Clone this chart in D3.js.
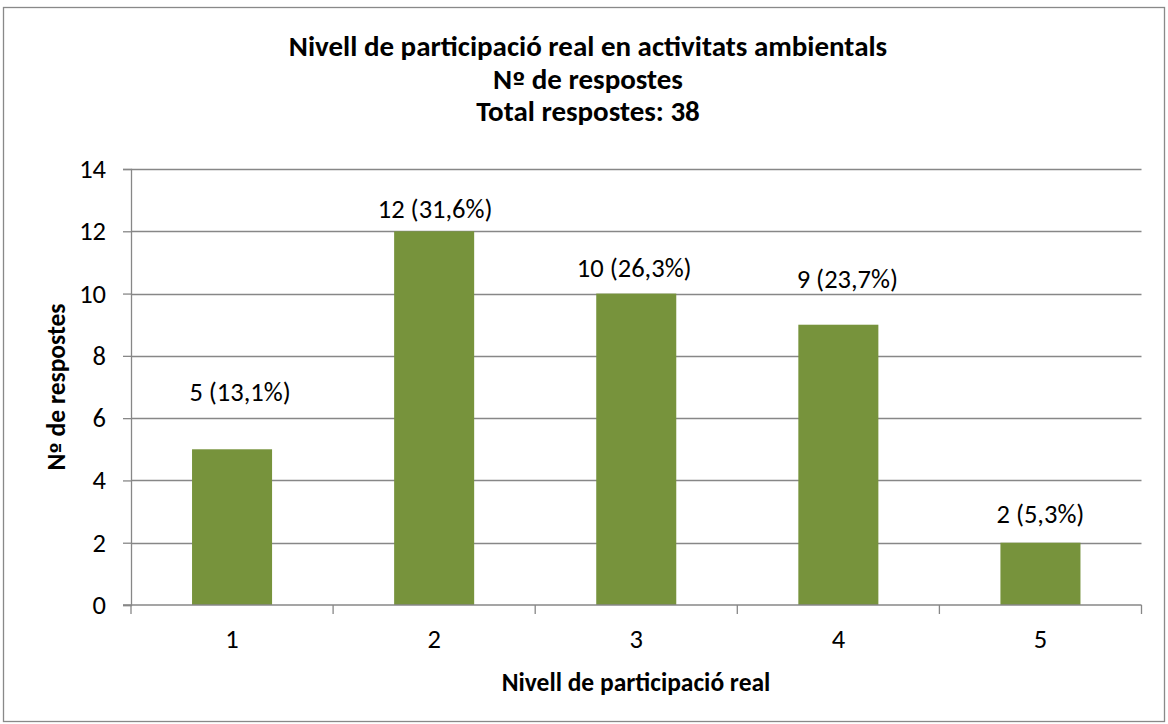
<!DOCTYPE html>
<html><head><meta charset="utf-8">
<script src="https://cdn.jsdelivr.net/npm/d3@7"></script>
<style>
html,body{margin:0;padding:0;background:#fff;}
svg text{font-family:Carlito, Lato, "Open Sans", sans-serif;fill:#000;}
</style></head>
<body>
<svg id="c" width="1168" height="724"></svg>
<script>
const categories = ["1","2","3","4","5"];
const values = [5, 12, 10, 9, 2];
const labels = ["5 (13,1%)","12 (31,6%)","10 (26,3%)","9 (23,7%)","2 (5,3%)"];
const yTicks = [0,2,4,6,8,10,12,14];
const titleLines = ["Nivell de participació real en activitats ambientals","Nº de respostes","Total respostes: 38"];
const xTitle = "Nivell de participació real";
const yTitle = "Nº de respostes";

// label placement (layout only): pixel lift above bar top and horizontal nudge
const labelLift = [48, 13, 17, 37, 20];
const labelNudge = [8, 1, -2, 9, 0];

const svg = d3.select("#c");
const m = {left:131, right:1141.5, top:169, bottom:605};

svg.append("rect").attr("x",3.5).attr("y",7.5).attr("width",1161).attr("height",714)
  .attr("fill","#fff").attr("stroke","#898989").attr("stroke-width",1.3);

const x = d3.scaleBand().domain(categories).range([m.left, m.right]).paddingInner(0.604).paddingOuter(0.302);
const xb = d3.scaleBand().domain(categories).range([m.left, m.right]).padding(0);
const y = d3.scaleLinear().domain([0,14]).range([m.bottom, m.top]);

// helper: write text, rendering "º" with a font that draws the underlined ordinal
function ordText(sel, s){
  const parts = s.split("º");
  parts.forEach((p,i)=>{
    if(i>0) sel.append("tspan").attr("font-family","'DejaVu Sans', sans-serif").attr("font-size","0.8em").text("º");
    if(p) sel.append("tspan").text(p);
  });
}

// gridlines
svg.append("g").selectAll("line").data(yTicks.filter(d=>d>0)).join("line")
  .attr("x1", m.left).attr("x2", m.right)
  .attr("y1", d=>Math.round(y(d))+0.5).attr("y2", d=>Math.round(y(d))+0.5)
  .attr("stroke","#878787").attr("stroke-width",1.3);

// bars
svg.append("g").selectAll("rect").data(values).join("rect")
  .attr("x",(d,i)=>x(categories[i])).attr("width",x.bandwidth())
  .attr("y",d=>y(d)).attr("height",d=>y(0)-y(d))
  .attr("fill","#77933C");

// y axis
const yAxis = d3.axisLeft(y).tickValues(yTicks).tickSize(8).tickPadding(17).tickFormat(d3.format("d"));
const gy = svg.append("g").attr("transform",`translate(${m.left},0)`).call(yAxis)
  .attr("font-size",null).attr("font-family",null);
gy.select(".domain").attr("stroke","#878787").attr("stroke-width",1.3);
gy.selectAll(".tick line").attr("stroke","#878787").attr("stroke-width",1.3);
gy.selectAll(".tick text").style("font-size","26.5px").attr("fill","#000");

// x axis
const gx = svg.append("g").attr("transform",`translate(0,${m.bottom})`);
gx.append("line").attr("x1",m.left-8).attr("x2",m.right).attr("y1",0).attr("y2",0)
  .attr("stroke","#878787").attr("stroke-width",1.3);
const bounds = categories.map(c=>xb(c)).concat([xb(categories[categories.length-1])+xb.bandwidth()]);
gx.selectAll("line.t").data(bounds).join("line").attr("class","t")
  .attr("x1",d=>d).attr("x2",d=>d).attr("y1",0).attr("y2",9)
  .attr("stroke","#878787").attr("stroke-width",1.3);
gx.selectAll("text").data(categories).join("text")
  .attr("x",d=>xb(d)+xb.bandwidth()/2).attr("y",43)
  .attr("text-anchor","middle").style("font-size","26.5px").text(d=>d);

// data labels
svg.append("g").selectAll("text").data(values).join("text")
  .attr("x",(d,i)=>x(categories[i])+x.bandwidth()/2+labelNudge[i])
  .attr("y",(d,i)=>y(d)-labelLift[i])
  .attr("text-anchor","middle").style("font-size","26.5px").text((d,i)=>labels[i]);

// title
svg.append("g").selectAll("text").data(titleLines).join("text")
  .attr("x",588).attr("y",(d,i)=>56+i*32.5)
  .attr("text-anchor","middle").style("font-size","29px").attr("font-weight","bold")
  .each(function(d){ ordText(d3.select(this), d); });

// axis titles
svg.append("text").attr("x",636).attr("y",691).attr("text-anchor","middle")
  .style("font-size","25.5px").attr("font-weight","bold").text(xTitle);
svg.append("text").attr("transform","translate(65,387) rotate(-90)").attr("text-anchor","middle")
  .style("font-size","25.5px").attr("font-weight","bold")
  .call(s=>ordText(s, yTitle));
</script>
</body></html>
